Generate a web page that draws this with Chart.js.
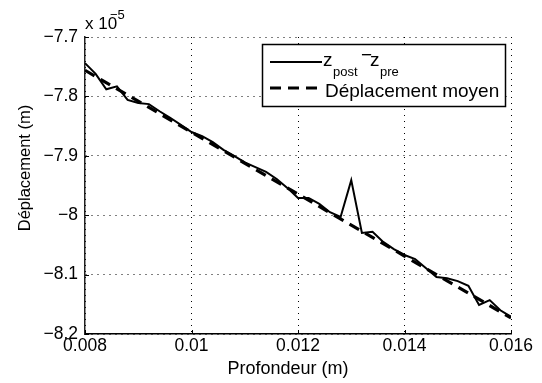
<!DOCTYPE html>
<html>
<head>
<meta charset="utf-8">
<script src="https://cdn.jsdelivr.net/npm/chart.js@4.4.1/dist/chart.umd.min.js"></script>
<style>
  html, body { margin: 0; padding: 0; background: #fff; }
  canvas { display: block; }
</style>
</head>
<body>
<canvas id="myChart" width="542" height="383"></canvas>
<script>
// profondeur (m)
const depth = [
  0.0080, 0.0082, 0.0084, 0.0086, 0.0088, 0.0090, 0.0092, 0.0094, 0.0096, 0.0098,
  0.0100, 0.0102, 0.0104, 0.0106, 0.0108, 0.0110, 0.0112, 0.0114, 0.0116, 0.0118,
  0.0120, 0.0122, 0.0124, 0.0126, 0.0128, 0.0130, 0.0132, 0.0134, 0.0136, 0.0138,
  0.0140, 0.0142, 0.0144, 0.0146, 0.0148, 0.0150, 0.0152, 0.0154, 0.0156, 0.0158,
  0.0160
];
// z_post - z_pre, en unites de 1e-5 m
const zDiff = [
  -7.744, -7.762, -7.788, -7.783, -7.806, -7.811, -7.813, -7.825, -7.836, -7.848,
  -7.860, -7.867, -7.877, -7.890, -7.900, -7.911, -7.919, -7.927, -7.939, -7.954,
  -7.971, -7.971, -7.981, -7.995, -8.003, -7.941, -8.030, -8.028, -8.045, -8.057,
  -8.067, -8.074, -8.089, -8.104, -8.106, -8.111, -8.119, -8.151, -8.143, -8.160,
  -8.171
];
// deplacement moyen (droite)
const meanDepth = [0.008, 0.016];
const meanDisp = [-7.756, -8.173];

const xTicks = [0.008, 0.010, 0.012, 0.014, 0.016];
const xTickLabels = ['0.008', '0.01', '0.012', '0.014', '0.016'];
const yTicks = [-7.7, -7.8, -7.9, -8.0, -8.1, -8.2];
const yTickLabels = ['\u22127.7', '\u22127.8', '\u22127.9', '\u22128', '\u22128.1', '\u22128.2'];

const FONT = 'Liberation Sans, Arial, Helvetica, sans-serif';

// labels, legende et petits traits de graduation vers l'interieur
const decorations = {
  id: 'decorations',
  afterDraw(chart) {
    const c = chart.ctx;
    const a = chart.chartArea;
    const sx = chart.scales.x, sy = chart.scales.y;
    c.save();
    c.fillStyle = '#000';
    c.strokeStyle = '#000';

    // graduations
    c.lineWidth = 1;
    c.setLineDash([]);
    c.beginPath();
    xTicks.forEach(v => {
      const px = Math.round(sx.getPixelForValue(v)) + 0.5;
      c.moveTo(px, a.bottom); c.lineTo(px, a.bottom - 4);
    });
    yTicks.forEach(v => {
      const py = Math.round(sy.getPixelForValue(v)) + 0.5;
      c.moveTo(a.left, py); c.lineTo(a.left + 4, py);
    });
    c.stroke();

    // facteur d'echelle
    c.textBaseline = 'alphabetic';
    c.textAlign = 'left';
    c.font = '17px ' + FONT;
    c.fillText('x 10', 85, 29);
    c.font = '13px ' + FONT;
    c.fillText('\u22125', 110, 19);

    // titres des axes
    c.font = '18px ' + FONT;
    c.textAlign = 'center';
    c.textBaseline = 'middle';
    c.fillText('Profondeur (m)', 288, 369);
    c.save();
    c.translate(25, 168);
    c.rotate(-Math.PI / 2);
    c.font = '16.5px ' + FONT;
    c.fillText('D\u00e9placement (m)', 0, 0);
    c.restore();

    // legende
    const bx = 262, by = 44, bw = 243, bh = 62;
    c.fillStyle = '#fff';
    c.fillRect(bx, by, bw, bh);
    c.lineWidth = 1.5;
    c.strokeRect(bx + 0.5, by + 0.5, bw, bh);
    c.fillStyle = '#000';

    c.beginPath();
    c.lineWidth = 2;
    c.moveTo(270, 62); c.lineTo(322, 62);
    c.stroke();
    c.beginPath();
    c.lineWidth = 3.2;
    c.setLineDash([11, 7]);
    c.moveTo(270, 88); c.lineTo(323, 88);
    c.stroke();
    c.setLineDash([]);

    c.textAlign = 'left';
    c.textBaseline = 'alphabetic';
    c.font = '19px ' + FONT;
    c.fillText('z', 323, 66);
    c.font = '13px ' + FONT;
    c.fillText('post', 333, 76);
    c.font = '19px ' + FONT;
    c.fillText('\u2212', 361, 61);
    c.fillText('z', 370, 66);
    c.font = '13px ' + FONT;
    c.fillText('pre', 380, 76);
    c.font = '19px ' + FONT;
    c.fillText('D\u00e9placement moyen', 325, 97);
    c.restore();
  }
};

const ctx = document.getElementById('myChart').getContext('2d');
const myChart = new Chart(ctx, {
  type: 'scatter',
  data: {
    datasets: [{
      label: 'z_post - z_pre',
      data: depth.map((x, i) => ({ x: x, y: zDiff[i] })),
      showLine: true,
      borderColor: '#000',
      borderWidth: 2,
      pointRadius: 0,
      tension: 0
    }, {
      label: 'D\u00e9placement moyen',
      data: meanDepth.map((x, i) => ({ x: x, y: meanDisp[i] })),
      showLine: true,
      borderColor: '#000',
      borderWidth: 3.2,
      borderDash: [11, 7],
      pointRadius: 0
    }]
  },
  options: {
    responsive: false,
    animation: false,
    devicePixelRatio: 1,
    layout: { padding: { left: 0, top: 37, right: 31, bottom: 0 } },
    plugins: {
      legend: { display: false },
      tooltip: { enabled: false }
    },
    scales: {
      x: {
        type: 'linear',
        min: 0.008,
        max: 0.016,
        afterBuildTicks: s => { s.ticks = xTicks.map(v => ({ value: v })); },
        afterFit: s => { s.height = 49; },
        ticks: {
          callback: (v, i) => xTickLabels[i],
          color: '#000',
          padding: 2,
          maxRotation: 0,
          font: { family: FONT, size: 17.5 }
        },
        grid: { color: '#000', lineWidth: 1, drawTicks: false },
        border: { color: '#000', width: 1.5, dash: [1, 5] }
      },
      y: {
        type: 'linear',
        min: -8.2,
        max: -7.7,
        afterBuildTicks: s => { s.ticks = yTicks.map(v => ({ value: v })); },
        afterFit: s => { s.width = 85; },
        ticks: {
          callback: (v, i) => yTickLabels[i],
          color: '#000',
          padding: 7,
          font: { family: FONT, size: 17.5 }
        },
        grid: { color: '#000', lineWidth: 1, drawTicks: false },
        border: { color: '#222', width: 1.5, dash: [1, 5] }
      }
    }
  },
  plugins: [decorations]
});
</script>
</body>
</html>
